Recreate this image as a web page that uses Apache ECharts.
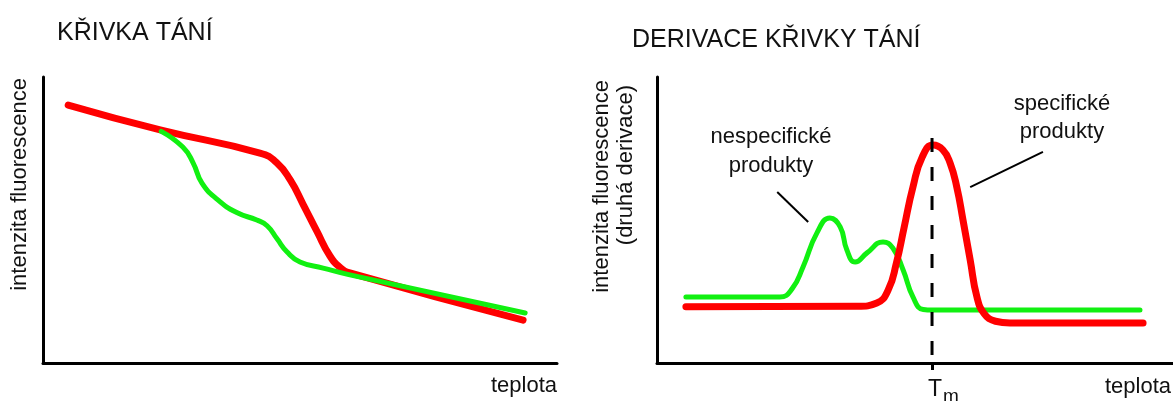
<!DOCTYPE html>
<html><head><meta charset="utf-8">
<script src="https://cdn.jsdelivr.net/npm/echarts@6/dist/echarts.min.js"></script>
<style>html,body{margin:0;padding:0;background:#fff}#c{width:1173px;height:401px}</style>
</head><body><div id="c"></div>
<script>
// ---- data (relative units: teplota 0..100, intensity 0..100) ----
const titles = ['KŘIVKA TÁNÍ', 'DERIVACE KŘIVKY TÁNÍ'];
const xName = 'teplota';
const yNameMelt = 'intenzita fluorescence';
const yNameDeriv = ['intenzita fluorescence', '(druhá derivace)'];
const noteNonspecific = 'nespecifické\nprodukty';
const noteSpecific = 'specifické\nprodukty';
const tmValue = 53.3;

// melting curve – specific product (red)
const meltSpecific = [
  [4.9, 90.2], [22.8, 81.5], [42.2, 73.4], [45.5, 70.0], [48.1, 64.0],
  [50.6, 55.5], [53.3, 46.0], [55.8, 37.5], [57.8, 33.4], [59.7, 31.5], [93.4, 15.0]
];
// melting curve – nonspecific products (green)
const meltNonspecific = [
  [23.0, 81.0], [27.2, 75.5], [29.2, 70.0], [30.9, 63.0], [33.9, 57.2],
  [37.7, 52.6], [41.6, 50.0], [43.6, 48.0], [45.5, 43.5], [47.5, 38.8],
  [50.0, 35.3], [54.5, 33.2], [59.7, 30.8], [93.8, 17.5]
];
// derivative – specific product (red)
const derivSpecific = [
  [5.6, 19.7], [38.8, 19.8], [42.6, 21.0], [44.8, 25.5], [46.4, 35.0], [47.9, 47.5],
  [49.6, 61.5], [51.4, 72.0], [53.5, 76.2], [55.4, 74.5], [56.8, 69.9],
  [58.1, 61.5], [59.3, 50.0], [60.7, 36.0], [62.0, 23.1], [63.4, 17.3],
  [65.6, 14.6], [68.4, 14.0], [94.2, 14.0]
];
// derivative – nonspecific products (green)
const derivNonspecific = [
  [5.6, 23.1], [23.8, 23.1], [26.2, 26.0], [28.3, 33.6], [31.0, 45.5],
  [33.5, 50.7], [35.5, 47.6], [36.8, 39.5], [38.4, 35.3], [40.7, 38.5],
  [43.8, 42.3], [45.7, 40.2], [47.7, 32.5], [49.6, 23.1], [51.6, 18.7], [53.5, 18.5], [93.6, 18.5]
];
const tmLine = [[tmValue, 83.2], [tmValue, 0]];
const leaderNonspecific = [[23.3, 59.8], [29.3, 49.3]];
const leaderSpecific = [[60.7, 61.5], [74.8, 73.8]];

// ---- chart ----
const FONT = "'Liberation Sans', Arial, sans-serif";
const RED = '#ff0000', GREEN = '#11f011', INK = '#111';
const chart = echarts.init(document.getElementById('c'));

function axisX(gridIndex, extra) {
  return Object.assign({
    type: 'value', gridIndex, min: 0, max: 100,
    axisLine: { show: true, lineStyle: { color: '#000', width: 3 } },
    axisTick: { show: false }, axisLabel: { show: false }, splitLine: { show: false }
  }, extra || {});
}
function axisY(gridIndex) {
  return {
    type: 'value', gridIndex, min: 0, max: 100,
    axisLine: { show: true, onZero: false, lineStyle: { color: '#000', width: 3 } },
    axisTick: { show: false }, axisLabel: { show: false }, splitLine: { show: false }
  };
}
function curve(xi, data, color, width, z) {
  return {
    type: 'line', xAxisIndex: xi, yAxisIndex: xi, data, smooth: 0.5,
    symbol: 'none', z,
    lineStyle: { color, width, cap: 'round', join: 'round' }, silent: true
  };
}
function straight(xi, data, style, z) {
  return {
    type: 'line', xAxisIndex: xi, yAxisIndex: xi, data, symbol: 'none', z,
    lineStyle: style, silent: true
  };
}

const textStyle = { fill: INK, font: '22px ' + FONT };

chart.setOption({
  animation: false,
  backgroundColor: '#fff',
  title: [
    { text: titles[0], left: 52, top: 16, textStyle: { fontFamily: FONT, fontSize: 25, fontWeight: 'normal', color: INK } },
    { text: titles[1], left: 627, top: 23, textStyle: { fontFamily: FONT, fontSize: 25, fontWeight: 'normal', color: INK } }
  ],
  grid: [
    { left: 43, top: 77, width: 514, height: 286, containLabel: false, outerBoundsMode: 'none' },
    { left: 657, top: 77, width: 516, height: 286, containLabel: false, outerBoundsMode: 'none' }
  ],
  xAxis: [
    axisX(0),
    axisX(1, {
      axisTick: { show: true, customValues: [tmValue], length: 7, lineStyle: { color: '#000', width: 3 } },
      axisLabel: {
        show: true, customValues: [tmValue], margin: 15, align: 'left',
        formatter: () => '{t|T}{m|m}',
        rich: {
          t: { fontFamily: FONT, fontSize: 23, color: INK, lineHeight: 28, verticalAlign: 'top', padding: [0, 0, 0, -4] },
          m: { fontFamily: FONT, fontSize: 19, color: INK, lineHeight: 28, verticalAlign: 'bottom', padding: [0, 0, 0, 1] }
        }
      }
    })
  ],
  yAxis: [axisY(0), axisY(1)],
  series: [
    curve(0, meltSpecific, RED, 7, 2),
    curve(0, meltNonspecific, GREEN, 5, 3),
    curve(1, derivNonspecific, GREEN, 5, 2),
    curve(1, derivSpecific, RED, 7, 3),
    straight(1, tmLine, { color: '#000', width: 3, type: [14, 15], dashOffset: 16 }, 4),
    straight(1, leaderNonspecific, { color: '#000', width: 2 }, 4),
    straight(1, leaderSpecific, { color: '#000', width: 2 }, 4)
  ],
  graphic: [
    { type: 'text', x: 557, y: 386, style: Object.assign({ text: xName, align: 'right', verticalAlign: 'middle' }, textStyle) },
    { type: 'text', x: 1171, y: 387, style: Object.assign({ text: xName, align: 'right', verticalAlign: 'middle' }, textStyle) },
    { type: 'text', x: 20, y: 78, rotation: Math.PI / 2, style: Object.assign({ text: yNameMelt, align: 'right', verticalAlign: 'middle' }, textStyle) },
    { type: 'text', x: 602, y: 80, rotation: Math.PI / 2, style: Object.assign({ text: yNameDeriv[0], align: 'right', verticalAlign: 'middle' }, textStyle) },
    { type: 'text', x: 626, y: 85, rotation: Math.PI / 2, style: Object.assign({ text: yNameDeriv[1], align: 'right', verticalAlign: 'middle' }, textStyle) },
    { type: 'text', x: 771, y: 151, style: Object.assign({ text: noteNonspecific, align: 'center', verticalAlign: 'middle', lineHeight: 29 }, textStyle) },
    { type: 'text', x: 1062, y: 118, style: Object.assign({ text: noteSpecific, align: 'center', verticalAlign: 'middle', lineHeight: 28 }, textStyle) }
  ]
});
</script>
</body></html>
